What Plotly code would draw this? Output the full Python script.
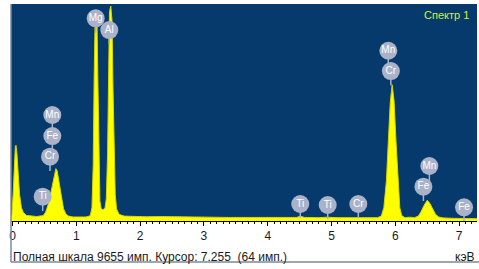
import plotly.graph_objects as go

# Spectrum (energy in keV, counts)
energy_kev = [-0.024, -0.01, 0.01, 0.03, 0.045, 0.055, 0.07, 0.09, 0.11, 0.14, 0.17, 0.22, 0.30, 0.38, 0.44,
              0.48, 0.52, 0.56, 0.60, 0.63, 0.66, 0.68, 0.70, 0.73, 0.76, 0.80, 0.84, 0.88, 0.95, 1.05, 1.15, 1.20,
              1.22, 1.245, 1.265, 1.28, 1.295, 1.31, 1.325, 1.34, 1.355, 1.37, 1.39, 1.42, 1.45,
              1.47, 1.49, 1.505, 1.52, 1.54, 1.56, 1.575, 1.59, 1.61, 1.63, 1.67, 1.75,
              1.9, 2.1, 2.3, 2.6, 3.0, 3.4, 3.8, 4.2, 4.45, 4.51, 4.58, 4.8, 4.93, 5.1, 5.4, 5.6, 5.72,
              5.78, 5.82, 5.86, 5.89, 5.92, 5.95, 5.98, 6.01, 6.04, 6.07, 6.10, 6.15, 6.22, 6.30,
              6.36, 6.40, 6.45, 6.50, 6.54, 6.58, 6.63, 6.68, 6.75, 6.9, 7.05, 7.15, 7.28]
counts = [150, 300, 1200, 2800, 3350, 3400, 3000, 2100, 1200, 600, 380, 250, 210, 200, 230,
          240, 400, 750, 1250, 1700, 2150, 2350, 2250, 1700, 1100, 550, 300, 220, 180, 170, 180, 220,
          250, 600, 2500, 6500, 9000, 9300, 8800, 6000, 2500, 900, 550, 500, 600,
          1000, 3000, 7000, 9400, 9655, 9000, 6000, 3000, 1200, 550, 300, 220,
          200, 190, 200, 180, 170, 160, 160, 150, 160, 210, 160, 150, 170, 150, 160, 140, 150,
          220, 600, 1800, 3500, 5300, 6120, 5400, 3600, 1800, 600, 250, 150, 170, 150,
          220, 400, 700, 930, 800, 550, 300, 180, 140, 120, 130, 110, 100]

# Element markers
label_text = ["Ti", "Cr", "Fe", "Mn", "Mg", "Al", "Ti", "Ti", "Cr", "Mn", "Cr", "Fe", "Mn", "Fe"]
label_kev = [0.473, 0.588, 0.624, 0.624, 1.304, 1.517, 4.51, 4.94, 5.42, 5.89, 5.93, 6.44, 6.533, 7.077]
label_counts = [1091, 2887, 3816, 4760, 9100, 8576, 763, 718, 763, 7646, 6735, 1540, 2470, 615]

tick_values = [0, 1, 2, 3, 4, 5, 6, 7]
tick_labels = ["0", "1", "2", "3", "4", "5", "6", "7"]

Y_MAX = 9745
STEM = 640  # counts below circle centre

fig = go.Figure()
fig.add_trace(go.Scatter(
    x=energy_kev, y=counts, mode="lines", fill="tozeroy",
    fillcolor="#ffff00", line=dict(color="#d6d600", width=1),
    hoverinfo="skip", showlegend=False))

stem_x, stem_y = [], []
for xk, yc in zip(label_kev, label_counts):
    stem_x += [xk, xk, None]
    stem_y += [yc, yc - STEM, None]
fig.add_trace(go.Scatter(x=stem_x, y=stem_y, mode="lines",
                         line=dict(color="#a9b2c9", width=1.5),
                         hoverinfo="skip", showlegend=False))
fig.add_trace(go.Scatter(
    x=label_kev, y=label_counts, mode="markers+text", text=label_text,
    textposition="middle center",
    textfont=dict(color="white", size=10, family="Liberation Sans, Arial"),
    marker=dict(size=18, color="#a9b2c9", line=dict(width=0)),
    hoverinfo="skip", showlegend=False))

fig.update_layout(
    width=479, height=269,
    margin=dict(l=11, r=2, t=4, b=48),
    paper_bgcolor="white", plot_bgcolor="#073a6c",
    font=dict(family="Liberation Sans, Arial", color="#1a1a1a", size=12),
    xaxis=dict(range=[-0.0235, 7.28], showgrid=False, zeroline=False,
               showline=True, linecolor="black", linewidth=1,
               ticks="outside", ticklen=4, tickcolor="black",
               tickvals=tick_values, ticktext=tick_labels,
               tickfont=dict(size=12, color="#1a1a1a"),
               minor=dict(ticks="outside", dtick=0.1, tick0=0, ticklen=2, tickcolor="black")),
    yaxis=dict(range=[0, Y_MAX], visible=False),
    annotations=[
        dict(text="Спектр 1", x=1, y=1, xref="paper", yref="paper",
             xanchor="right", yanchor="middle", xshift=-6, yshift=-11,
             showarrow=False, font=dict(color="#d8ee3c", size=11)),
        dict(text="Полная шкала 9655 имп. Курсор: 7.255  (64 имп.)", x=0, y=0,
             xref="paper", yref="paper", xanchor="left", yanchor="middle",
             yshift=-36, showarrow=False, font=dict(size=12, color="#1a1a1a")),
        dict(text="кэВ", x=1, y=0, xref="paper", yref="paper", xanchor="right",
             yanchor="middle", yshift=-36, showarrow=False,
             font=dict(size=12, color="#1a1a1a")),
    ],
    shapes=[
        dict(type="line", xref="paper", yref="paper", x0=0, x1=0, y0=1, y1=-0.189,
             line=dict(color="#7d8a99", width=1.5)),
        dict(type="line", xref="paper", yref="paper", x0=0, x1=1.005, y0=-0.189, y1=-0.189,
             line=dict(color="#7d8a99", width=1.5)),
    ],
)

fig.write_html("out.html", config={"displayModeBar": False},
               post_script="document.body.style.margin='0';document.body.style.overflow='hidden';")
